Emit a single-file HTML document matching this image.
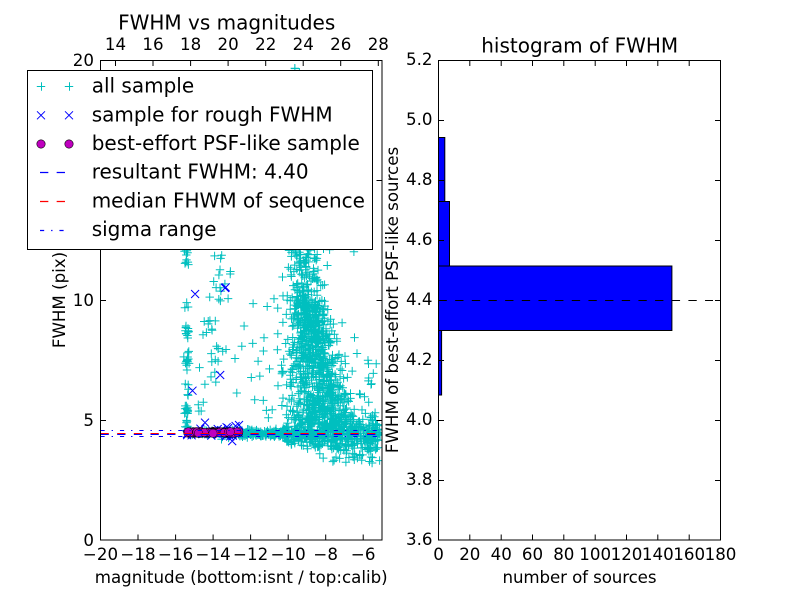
<!DOCTYPE html>
<html><head><meta charset="utf-8">
<style>
html,body{margin:0;padding:0;background:#fff;}
svg{display:block;}
text{font-family:"DejaVu Sans","Liberation Sans",sans-serif;fill:#000;}
</style></head>
<body>
<svg id="s" width="800" height="600" viewBox="0 0 800 600" xmlns="http://www.w3.org/2000/svg">
<defs><clipPath id="c1"><rect x="100.5" y="60.5" width="281.5" height="479.5"/></clipPath></defs>
<rect width="800" height="600" fill="#fff"/>

<!-- LEFT PLOT DATA -->
<g clip-path="url(#c1)">
  <path id="cy" fill="none" stroke="#00bfbf" stroke-width="1"/>
  <path id="bx" fill="none" stroke="#0000ff" stroke-width="1"/>
  <g id="mg"></g>
  <line x1="100.5" x2="382" y1="434.5" y2="434.5" stroke="#0000ff" stroke-width="1" stroke-dasharray="8.33 8.33"/>
  <line x1="100.5" x2="382" y1="433.5" y2="433.5" stroke="#ff0000" stroke-width="1" stroke-dasharray="8.33 8.33"/>
  <line x1="100.5" x2="382" y1="430.5" y2="430.5" stroke="#0000ff" stroke-width="1" stroke-dasharray="4.17 6.94 1.39 6.94"/>
  <line x1="100.5" x2="382" y1="436.5" y2="436.5" stroke="#0000ff" stroke-width="1" stroke-dasharray="4.17 6.94 1.39 6.94"/>
</g>

<!-- LEFT SPINES & TICKS -->
<rect x="100.5" y="60.5" width="281.5" height="479.5" fill="none" stroke="#000" stroke-width="1"/>
<path fill="none" stroke="#000" stroke-width="1" d="
M138.0 540v-5.5M175.6 540v-5.5M213.1 540v-5.5M250.6 540v-5.5M288.2 540v-5.5M325.7 540v-5.5M363.2 540v-5.5
M115.5 60.5v5.5M153.0 60.5v5.5M190.6 60.5v5.5M228.1 60.5v5.5M265.7 60.5v5.5M303.2 60.5v5.5M340.7 60.5v5.5M378.3 60.5v5.5
M100.5 420.5h5.5M100.5 300.5h5.5M100.5 180.5h5.5
M382 420.5h-5.5M382 300.5h-5.5M382 180.5h-5.5"/>

<!-- LEFT TICK LABELS -->
<g font-size="16.67" text-anchor="middle">
  <text x="100.5" y="560">−20</text>
  <text x="138.0" y="560">−18</text>
  <text x="175.6" y="560">−16</text>
  <text x="213.1" y="560">−14</text>
  <text x="250.6" y="560">−12</text>
  <text x="288.2" y="560">−10</text>
  <text x="325.7" y="560">−8</text>
  <text x="363.2" y="560">−6</text>
  <text x="115.5" y="50">14</text>
  <text x="153.0" y="50">16</text>
  <text x="190.6" y="50">18</text>
  <text x="228.1" y="50">20</text>
  <text x="265.7" y="50">22</text>
  <text x="303.2" y="50">24</text>
  <text x="340.7" y="50">26</text>
  <text x="378.3" y="50">28</text>
</g>
<g font-size="16.67" text-anchor="end">
  <text x="94" y="546">0</text>
  <text x="94" y="426">5</text>
  <text x="94" y="306">10</text>
  <text x="94" y="186">15</text>
  <text x="94" y="66">20</text>
</g>
<text x="241.2" y="583" font-size="16.67" text-anchor="middle">magnitude (bottom:isnt / top:calib)</text>
<text transform="translate(65,300) rotate(-90)" font-size="16.67" text-anchor="middle">FWHM (pix)</text>
<text x="226.7" y="29.5" font-size="20" text-anchor="middle">FWHM vs magnitudes</text>

<!-- LEGEND -->
<rect x="27.5" y="70.5" width="345" height="179" fill="#fff" stroke="#000" stroke-width="1"/>
<path fill="none" stroke="#00bfbf" stroke-width="1" d="M36.8 86.5h8.4M41.5 82.3v8.4M64.8 86.5h8.4M69.5 82.3v8.4"/>
<path fill="none" stroke="#0000ff" stroke-width="1" d="M37 111.3l8 8m0 -8l-8 8M65 111.3l8 8m0 -8l-8 8"/>
<circle cx="41" cy="144" r="4.2" fill="#bf00bf" stroke="#000" stroke-width="0.6"/>
<circle cx="69" cy="144" r="4.2" fill="#bf00bf" stroke="#000" stroke-width="0.6"/>
<line x1="40" x2="69" y1="172.5" y2="172.5" stroke="#0000ff" stroke-width="1.2" stroke-dasharray="8.33 8.33"/>
<line x1="40" x2="69" y1="201.5" y2="201.5" stroke="#ff0000" stroke-width="1.3" stroke-dasharray="8.33 8.33"/>
<line x1="40" x2="69" y1="230.5" y2="230.5" stroke="#0000ff" stroke-width="1.2" stroke-dasharray="4.17 6.94 1.39 6.94"/>
<g font-size="20">
  <text x="91.7" y="92.7">all sample</text>
  <text x="91.7" y="121.3">sample for rough FWHM</text>
  <text x="91.7" y="150">best-effort PSF-like sample</text>
  <text x="91.7" y="178.7">resultant FWHM: 4.40</text>
  <text x="91.7" y="207.3">median FHWM of sequence</text>
  <text x="91.7" y="236">sigma range</text>
</g>

<!-- RIGHT PLOT: HISTOGRAM -->
<g fill="#0000ff" stroke="#000" stroke-width="1">
  <rect x="438.5" y="137.5" width="6.3" height="64"/>
  <rect x="438.5" y="201.5" width="11.0" height="64.5"/>
  <rect x="438.5" y="266.0" width="233.4" height="64.5"/>
  <rect x="438.5" y="330.5" width="3.1" height="64.5"/>
</g>
<line x1="438.5" x2="713" y1="300.5" y2="300.5" stroke="#000" stroke-width="1" stroke-dasharray="8.33 8.33"/>
<rect x="438.5" y="60.5" width="282" height="479.5" fill="none" stroke="#000" stroke-width="1"/>
<path fill="none" stroke="#000" stroke-width="1" d="
M469.8 540v-5.5M501.2 540v-5.5M532.5 540v-5.5M563.8 540v-5.5M595.2 540v-5.5M626.5 540v-5.5M657.8 540v-5.5M689.2 540v-5.5
M469.8 60.5v5.5M501.2 60.5v5.5M532.5 60.5v5.5M563.8 60.5v5.5M595.2 60.5v5.5M626.5 60.5v5.5M657.8 60.5v5.5M689.2 60.5v5.5
M438.5 480.5h5.5M438.5 420.5h5.5M438.5 360.5h5.5M438.5 300.5h5.5M438.5 240.5h5.5M438.5 180.5h5.5M438.5 120.5h5.5
M720.5 480.5h-5.5M720.5 420.5h-5.5M720.5 360.5h-5.5M720.5 300.5h-5.5M720.5 240.5h-5.5M720.5 180.5h-5.5M720.5 120.5h-5.5"/>
<g font-size="16.67" text-anchor="middle">
  <text x="438.5" y="560">0</text>
  <text x="469.8" y="560">20</text>
  <text x="501.2" y="560">40</text>
  <text x="532.5" y="560">60</text>
  <text x="563.8" y="560">80</text>
  <text x="595.2" y="560">100</text>
  <text x="626.5" y="560">120</text>
  <text x="657.8" y="560">140</text>
  <text x="689.2" y="560">160</text>
  <text x="720.5" y="560">180</text>
</g>
<g font-size="16.67" text-anchor="end">
  <text x="432.5" y="65">5.2</text>
  <text x="432.5" y="125">5.0</text>
  <text x="432.5" y="185">4.8</text>
  <text x="432.5" y="245">4.6</text>
  <text x="432.5" y="305">4.4</text>
  <text x="432.5" y="365">4.2</text>
  <text x="432.5" y="425">4.0</text>
  <text x="432.5" y="485">3.8</text>
  <text x="432.5" y="545">3.6</text>
</g>
<text x="579.5" y="583" font-size="16.67" text-anchor="middle" textLength="154" lengthAdjust="spacing">number of sources</text>
<text transform="translate(398,300) rotate(-90)" font-size="16.67" text-anchor="middle">FWHM of best-effort PSF-like sources</text>
<text x="579.7" y="52.7" font-size="20" text-anchor="middle">histogram of FWHM</text>
</svg>

<script>
(function(){
var s=11;
function R(){s|=0;s=s+0x6D2B79F5|0;var t=Math.imul(s^s>>>15,1|s);t=t+Math.imul(t^t>>>7,61|t)^t;return((t^t>>>14)>>>0)/4294967296;}
function N(){var u=R()||1e-9,v=R();return Math.sqrt(-2*Math.log(u))*Math.cos(6.2831853*v);}
function U(a,b){return a+(b-a)*R();}
function X(m){return 100.5+(m+20)*18.767;}
function Y(f){return 540-f*24;}
var cy=[],bx=[],i,m,f,t,c,w;
function P(m,f){var x=X(m),y=Y(f);cy.push('M'+(x-4.2).toFixed(1)+' '+y.toFixed(1)+'h8.4M'+x.toFixed(1)+' '+(y-4.2).toFixed(1)+'v8.4');}
function B(m,f){var x=X(m),y=Y(f);bx.push('M'+(x-4).toFixed(1)+' '+(y-4).toFixed(1)+'l8 8m0 -8l-8 8');}
/* sequence */
for(i=0;i<80;i++)P(U(-15.5,-12.4),4.46+N()*0.07);
for(i=0;i<150;i++)P(U(-12.6,-10),4.43+N()*0.07);
for(i=0;i<450;i++){m=U(-10.3,-5.1);P(m,4.38+N()*(0.18+0.05*(m+10)));}
for(i=0;i<30;i++)P(U(-8.6,-5.5),U(3.2,3.9));
/* plume core */
for(i=0;i<850;i++){f=4.7+5.3*Math.pow(R(),1.15);t=f-4.7;c=-8.15-t*0.15;w=1.0-t*0.1;P(c+N()*w,f);}
/* plume upper */
for(i=0;i<170;i++){f=U(9.6,12.8);P(-9.05+N()*0.45,f);}
for(i=0;i<60;i++)P(-9+N()*1.0,U(12,20));
for(i=0;i<16;i++)P(U(-12.2,-10.2),U(5,10.5));
for(i=0;i<14;i++)P(U(-7.2,-5.1),U(4.8,8));
/* left column */
var segs=[[4.6,5.0,8],[5.2,5.6,12],[6.0,6.5,5],[6.8,7.9,16],[8.4,9.0,12],[9.6,9.9,3],[11.0,12.2,10],[12.5,17,6]];
segs.forEach(function(q){for(var k=0;k<q[2];k++)P(-15.4+N()*0.07,U(q[0],q[1]));});
/* middle clusters */
var cl=[[-13.6,10.6,0.25,0.25,8],[-14.3,9.0,0.3,0.2,7],[-14.1,8.0,0.3,0.3,5],[-13.8,7.0,0.3,0.4,5],[-13.6,11.7,0.3,0.3,4],[-14.8,5.3,0.2,0.3,3]];
cl.forEach(function(q){for(var k=0;k<q[4];k++)P(q[0]+N()*q[2],q[1]+N()*q[3]);});
for(i=0;i<15;i++)P(U(-15,-12.3),U(5,12));
/* blue x */
for(i=0;i<30;i++)B(U(-15.4,-12.6),4.46+N()*0.08);
[[-14.96,10.25],[-13.33,10.53],[-13.36,10.5],[-15.1,6.22],[-13.62,6.875],[-14.43,4.89],[-12.98,4.12],[-12.62,4.79],[-13.28,4.7],[-12.8,4.75]].forEach(function(q){B(q[0],q[1]);});
document.getElementById('cy').setAttribute('d',cy.join(''));
document.getElementById('bx').setAttribute('d',bx.join(''));
/* magenta */
var g=document.getElementById('mg');
var ns='http://www.w3.org/2000/svg';
for(i=0;i<110;i++){m=U(-15.45,-12.55);f=4.48+Math.max(-0.05,Math.min(0.05,N()*0.02));
  var e=document.createElementNS(ns,'circle');
  e.setAttribute('cx',X(m).toFixed(1));e.setAttribute('cy',Y(f).toFixed(1));e.setAttribute('r','4.2');
  e.setAttribute('fill','#bf00bf');e.setAttribute('stroke','#000');e.setAttribute('stroke-width','0.5');
  g.appendChild(e);
}
})();
</script>
</body></html>
